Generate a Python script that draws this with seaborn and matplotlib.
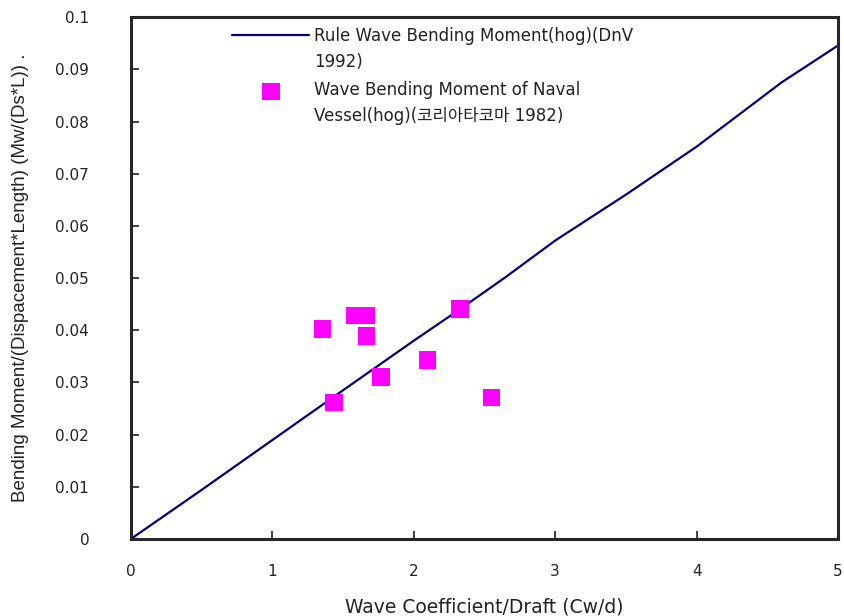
import matplotlib

matplotlib.use("Agg")
import matplotlib.pyplot as plt
from matplotlib.collections import Collection
from matplotlib.transforms import Affine2D
import pandas as pd
import seaborn as sns

# rule line (DnV 1992)
rule_x = [0, 0.5, 0.95, 1.17, 1.5, 2.0, 2.33, 2.65, 3.0, 3.5, 4.0, 4.6, 5.0]
rule_y = [0, 0.0094, 0.018, 0.0222, 0.0285, 0.038, 0.0441, 0.0502, 0.0572,
          0.066, 0.0752, 0.0875, 0.0946]

# naval vessel measurements
vessel_x = [1.355, 1.584, 1.667, 1.667, 2.327, 2.098, 1.768, 1.438, 2.551]
vessel_y = [0.0402, 0.0428, 0.0428, 0.0389, 0.0441, 0.0343, 0.0310, 0.0262, 0.0271]

line_label = "Rule Wave Bending Moment(hog)(DnV\n1992)"
point_label = "Wave Bending Moment of Naval\nVessel(hog)(코리아타코마 1982)"

sns.set_style("ticks")
plt.rcParams["font.family"] = ["DejaVu Sans", "Noto Sans CJK KR"]
plt.rcParams["axes.linewidth"] = 2.2
text_col = "#222222"

rule = pd.DataFrame({"x": rule_x, "y": rule_y})
vessel = pd.DataFrame({"x": vessel_x, "y": vessel_y})

fig, ax = plt.subplots(figsize=(8.44, 6.16), dpi=100)
fig.subplots_adjust(left=0.155, right=0.993, top=0.972, bottom=0.125)

sns.lineplot(data=rule, x="x", y="y", ax=ax, color="#000080", linewidth=1.6,
             label=line_label)
sns.scatterplot(data=vessel, x="x", y="y", ax=ax, color="#FF00FF", marker="s",
                s=160, edgecolor="none", label=point_label, zorder=3)

ax.set_xlim(0, 5)
ax.set_ylim(0, 0.1)
ax.set_xticks([0, 1, 2, 3, 4, 5])
ax.set_yticks([i / 100 for i in range(11)])
ax.set_yticklabels(["0", "0.01", "0.02", "0.03", "0.04", "0.05", "0.06",
                    "0.07", "0.08", "0.09", "0.1"])
ax.tick_params(direction="in", length=6, width=1.2, labelsize=11,
               colors=text_col)
ax.tick_params(axis="y", pad=30)
ax.tick_params(axis="x", pad=18)

ax.set_xlabel("Wave Coefficient/Draft (Cw/d)", fontsize=13.5, color=text_col,
              labelpad=13)
ax.set_ylabel("Bending Moment/(Dispacement*Length) (Mw/(Ds*L)) .",
              fontsize=13.5, color=text_col, labelpad=19,
              family=["Liberation Sans Narrow", "Liberation Sans"])

leg = ax.legend(loc="upper left", bbox_to_anchor=(0.2655, 0.970),
                bbox_transform=fig.transFigure, frameon=False, fontsize=12,
                handlelength=4.6, handletextpad=0.3, labelspacing=0.65,
                borderpad=0, labelcolor=text_col)
for t in leg.get_texts():
    t.set_linespacing(1.55)

# lift legend handles up to the first line of their two-line labels
lift = Affine2D().translate(0, 14.5)
for h in leg.legend_handles:
    if isinstance(h, Collection):
        h.set_offset_transform(h.get_offset_transform() + lift)
    else:
        h.set_transform(h.get_transform() + lift)

plt.savefig("out.png", dpi=100)
plt.close()
